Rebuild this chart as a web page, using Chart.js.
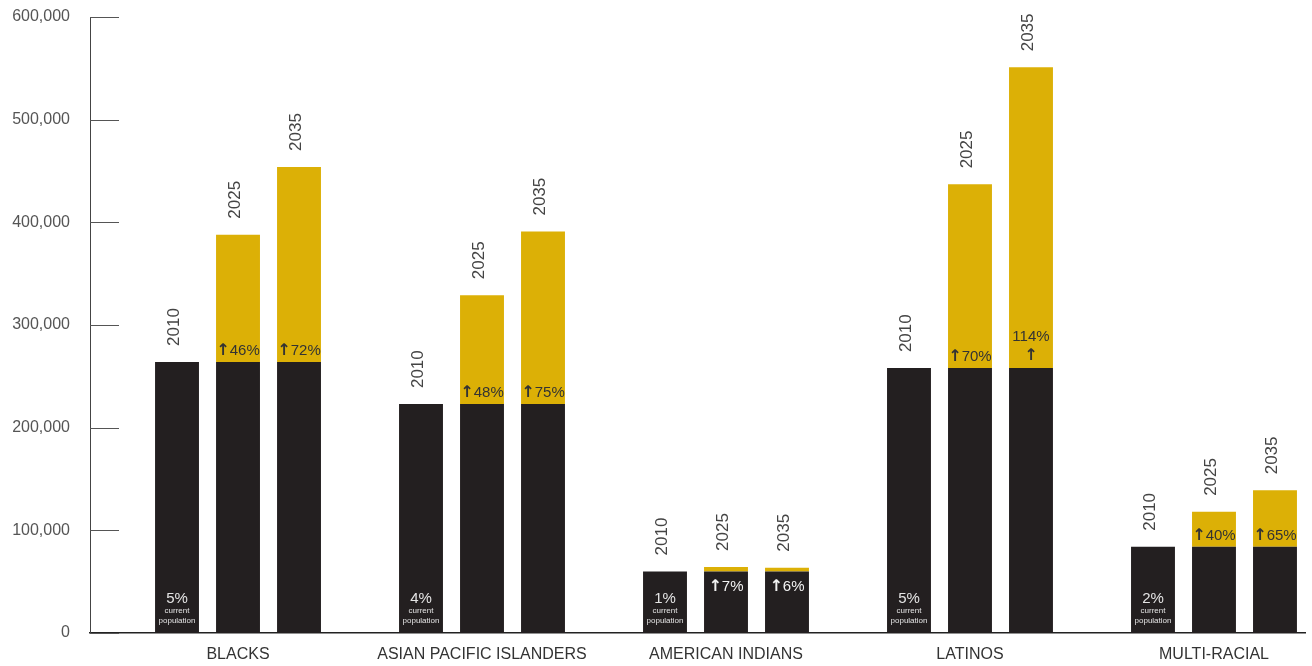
<!DOCTYPE html>
<html>
<head>
<meta charset="utf-8">
<script src="https://cdn.jsdelivr.net/npm/chart.js@4"></script>
<style>
  html, body { margin: 0; padding: 0; background: #fff; }
  #wrap { width: 1312px; height: 666px; position: relative; }
</style>
</head>
<body>
<div id="wrap"><canvas id="grafico"></canvas></div>
<script>
// dados
const grupos = ['BLACKS', 'ASIAN PACIFIC ISLANDERS', 'AMERICAN INDIANS', 'LATINOS', 'MULTI-RACIAL']
const anos = ['2010', '2025', '2035']
const pop2010 = [264000, 223000, 60000, 258000, 84000]
const total2025 = [388000, 329000, 64300, 437000, 118000]
const total2035 = [454000, 391000, 63600, 551000, 139000]
const parcela = ['5%', '4%', '1%', '5%', '2%']
const cresc2025 = ['46%', '48%', '7%', '70%', '40%']
const cresc2035 = ['72%', '75%', '6%', '114%', '65%']
const yTicks = [0, 100000, 200000, 300000, 400000, 500000, 600000]

const PRETO = '#231f20'
const OURO = '#dcb006'

const pontos = arr => arr.map((v, i) => ({ x: i, y: v }))
const ganho = tot => tot.map((v, i) => ({ x: i, y: v - pop2010[i] }))

const marcasY = {
    id: 'marcasY',
    afterDraw(chart) {
        const ctx = chart.ctx
        const y = chart.scales.y
        const left = chart.chartArea.left
        ctx.save()
        ctx.strokeStyle = '#555'
        ctx.lineWidth = 1
        yTicks.forEach(t => {
            const py = Math.round(y.getPixelForValue(t)) + 0.5
            ctx.beginPath()
            ctx.moveTo(left, py)
            ctx.lineTo(left + 29, py)
            ctx.stroke()
        })
        ctx.restore()
    }
}

function setaTexto(ctx, x, base, txt, cor) {
    ctx.fillStyle = cor
    ctx.font = 'bold 16px "DejaVu Sans"'
    const wa = ctx.measureText('↑').width
    ctx.font = '15px "Liberation Sans"'
    const wt = ctx.measureText(txt).width
    const x0 = x - (wa + wt) / 2
    ctx.textAlign = 'left'
    ctx.font = 'bold 16px "DejaVu Sans"'
    ctx.fillText('↑', x0, base)
    ctx.font = '15px "Liberation Sans"'
    ctx.fillText(txt, x0 + wa, base)
}

const rotulos = {
    id: 'rotulos',
    afterDatasetsDraw(chart) {
        const ctx = chart.ctx
        ctx.save()
        grupos.forEach((g, i) => {
            const b10 = chart.getDatasetMeta(0).data[i]
            const g25 = chart.getDatasetMeta(3).data[i]
            const g35 = chart.getDatasetMeta(4).data[i]

            // anos rotacionados
            const topos = [b10, g25, g35]
            topos.forEach((el, k) => {
                ctx.save()
                ctx.translate(el.x - 3, el.y - 16)
                ctx.rotate(-Math.PI / 2)
                ctx.font = '17px "Liberation Sans"'
                ctx.fillStyle = '#444'
                ctx.textAlign = 'left'
                ctx.textBaseline = 'middle'
                ctx.fillText(anos[k], 0, 0)
                ctx.restore()
            })

            // parcela atual
            ctx.textAlign = 'center'
            ctx.textBaseline = 'alphabetic'
            ctx.fillStyle = '#e4e4e4'
            ctx.font = '15px "Liberation Sans"'
            ctx.fillText(parcela[i], b10.x, b10.base - 30)
            ctx.font = '8px "Liberation Sans"'
            ctx.fillText('current', b10.x, b10.base - 20)
            ctx.fillText('population', b10.x, b10.base - 10)

            // crescimento
            const cres = [[g25, cresc2025[i]], [g35, cresc2035[i]]]
            cres.forEach(([el, txt]) => {
                const h = el.base - el.y
                ctx.textBaseline = 'alphabetic'
                if (h < 24) {
                    setaTexto(ctx, el.x, el.base + 20, txt, '#f2f2f2')
                } else if (txt.length > 3) {
                    ctx.fillStyle = '#333'
                    ctx.textAlign = 'center'
                    ctx.font = '15px "Liberation Sans"'
                    ctx.fillText(txt, el.x, el.base - 27)
                    ctx.font = 'bold 16px "DejaVu Sans"'
                    ctx.fillText('↑', el.x, el.base - 8)
                } else {
                    setaTexto(ctx, el.x, el.base - 7, txt, '#333')
                }
            })
        })
        ctx.restore()
    }
}

const grafico = document.getElementById('grafico')

new Chart(grafico, {
    type: 'bar',
    data: {
        datasets: [
            { label: '2010', data: pontos(pop2010), stack: 'a', backgroundColor: PRETO },
            { label: '2025 base', data: pontos(pop2010), stack: 'b', backgroundColor: PRETO },
            { label: '2035 base', data: pontos(pop2010), stack: 'c', backgroundColor: PRETO },
            { label: '2025', data: ganho(total2025), stack: 'b', backgroundColor: OURO },
            { label: '2035', data: ganho(total2035), stack: 'c', backgroundColor: OURO }
        ]
    },
    options: {
        responsive: true,
        maintainAspectRatio: false,
        animation: false,
        categoryPercentage: 0.75,
        barPercentage: 0.72,
        layout: { padding: { top: 17, right: 7, left: 0, bottom: 0 } },
        plugins: {
            legend: { display: false },
            tooltip: { enabled: false }
        },
        scales: {
            x: {
                type: 'linear',
                min: -0.6066,
                max: 4.373,
                offset: false,
                afterBuildTicks: s => { s.ticks = grupos.map((g, i) => ({ value: i })) },
                afterFit: s => { s.height = 33; s.paddingLeft = 0; s.paddingRight = 0 },
                grid: { display: false, drawTicks: false },
                border: { display: true, color: '#222', width: 1.5 },
                ticks: {
                    autoSkip: false,
                    maxRotation: 0,
                    padding: 12,
                    color: '#333',
                    font: { family: 'Liberation Sans', size: 16 },
                    callback: v => grupos[v]
                }
            },
            y: {
                stacked: true,
                min: 0,
                max: 600000,
                afterFit: s => { s.width = 90; s.paddingTop = 0; s.paddingBottom = 0 },
                afterBuildTicks: s => { s.ticks = yTicks.map(v => ({ value: v })) },
                grid: { display: false, drawTicks: false },
                border: { display: true, color: '#444', width: 1 },
                ticks: {
                    padding: 20,
                    color: '#555',
                    font: { family: 'Liberation Sans', size: 16 },
                    callback: v => v.toLocaleString('en-US')
                }
            }
        }
    },
    plugins: [marcasY, rotulos]
})
</script>
</body>
</html>
